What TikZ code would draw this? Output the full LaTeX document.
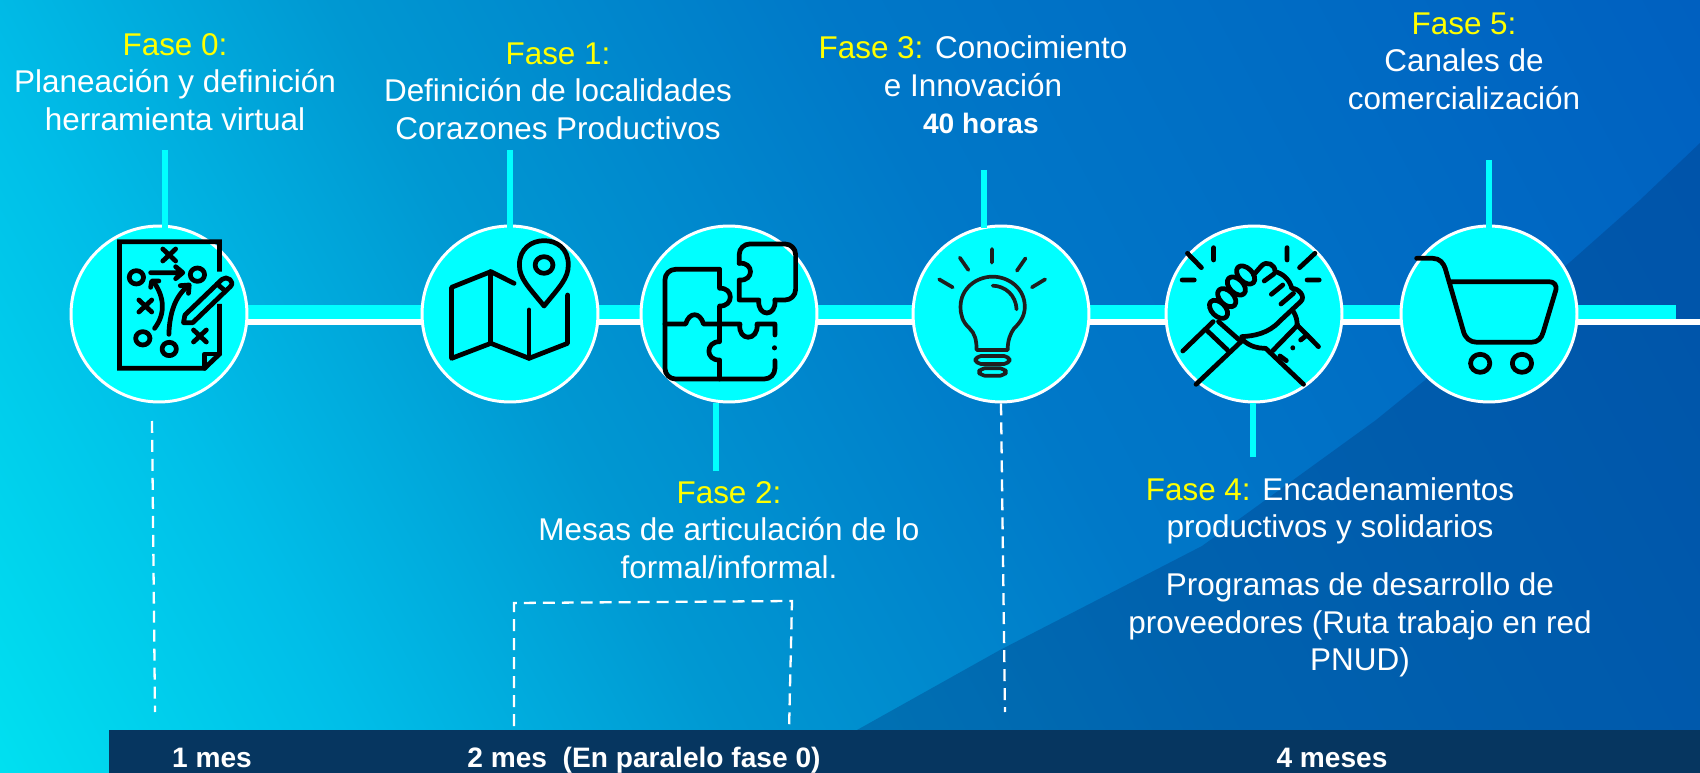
\documentclass[tikz,border=0pt]{standalone}
\usepackage{fontspec}
\setmainfont{Liberation Sans}
\usetikzlibrary{backgrounds}
\definecolor{fadea}{HTML}{00E0F0}
\definecolor{fadeb}{HTML}{00BEE8}
\definecolor{fadec}{HTML}{0098D2}
\definecolor{faded}{HTML}{0078C8}
\definecolor{fadee}{HTML}{0060C0}
\definecolor{navybar}{HTML}{063660}
\definecolor{wedgeblue}{HTML}{003A80}
\definecolor{aqua}{HTML}{00FFFF}
\definecolor{lemon}{HTML}{FFFF00}
\pgfdeclarehorizontalshading{bgfade}{100bp}{color(0bp)=(fadea); color(16bp)=(fadea); color(28bp)=(fadeb); color(40bp)=(fadec); color(56bp)=(faded); color(84bp)=(fadee); color(100bp)=(fadee)}
\tikzset{
  phase/.style={circle,draw=white,fill=aqua,line width=1.7pt,minimum size=3.52cm,inner sep=0pt},
  stem/.style={aqua,line width=3.6pt},
  dashline/.style={white,line width=1.3pt,dash pattern=on 6.8pt off 4pt},
  phasetext/.style={text=white,align=center,inner sep=0pt,font=\fontsize{17.9}{21.3}\selectfont},
  monthtext/.style={text=white,inner sep=0pt,anchor=base,font=\fontsize{16}{19}\selectfont\bfseries},
  icon/.style={x=0.0071429cm,y=-0.0066667cm,black,line width=2.7pt,line cap=round,line join=round},
}
\newcommand{\fase}[1]{\textcolor{lemon}{#1}}
\begin{document}
\begin{tikzpicture}[x=0.02cm,y=-0.02cm]
  \useasboundingbox (0,0) rectangle (1700,773);

  % phases
  \foreach \p/\x in {f0/159,f1/510,f2/729,f3/1001,f4/1254,f5/1489}{
    \node[phase] (\p) at (\x,314) {};
  }
  \coordinate (cyanend) at (1676,312);
  \coordinate (whiteend) at (1700,322);

  \begin{pgfonlayer}{background}
    \shade[shading=bgfade,shading angle=28.4] (0,0) rectangle (1700,773);
    \fill[wedgeblue,opacity=.35] (857,730) -- (1000,650) -- (1202,546) -- (1376,420) -- (1569,263) -- (1640,200) -- (1700,143) -- (1700,773) -- (857,773) -- cycle;
    \draw[aqua,line width=8pt] (f0.center |- cyanend) -- (cyanend);
    \draw[white,line width=3.7pt] (f0.center |- whiteend) -- (whiteend);
  \end{pgfonlayer}

  % stems
  \foreach \p/\x/\y in {f0/165/150,f1/510/150,f3/984/170,f5/1489/160}{
    \coordinate (s\p) at (\x,\y);
    \draw[stem,shorten >=-2pt] (s\p) -- (s\p |- \p.north);
  }
  \foreach \p/\x/\y in {f2/716/471,f4/1253/457}{
    \coordinate (s\p) at (\x,\y);
    \draw[stem] (s\p) -- (s\p |- \p.south);
  }

  % month bar
  \fill[navybar] (109,730) rectangle (1700,773);
  \node[monthtext] (m0) at (212,767) {1 mes};
  \node[monthtext] (m1) at (644,767) {2 mes\ \ (En paralelo fase 0)};
  \node[monthtext] (m2) at (1332,767) {4 meses};

  % dashed guides
  \coordinate (d0a) at (152,421);
  \coordinate (d0b) at (155,712);
  \coordinate (d1a) at (514,726);
  \coordinate (d1b) at (514,603);
  \coordinate (d1c) at (792,601);
  \coordinate (d1d) at (789,731);
  \coordinate (d3b) at (1005,712);
  \draw[dashline] (d0a) -- (d0b);
  \draw[dashline] (d1a) -- (d1b) -- (d1c) -- (d1d);
  \draw[dashline] (f3.south) -- (d3b);

  % labels
  \node[phasetext] (t0) at (175,82) {\fase{Fase 0:}\\Planeación y definición\\herramienta virtual};
  \node[phasetext] (t1) at (558,91) {\fase{Fase 1:}\\Definición de localidades\\Corazones Productivos};
  \node[phasetext] (t2) at (729,530) {\fase{Fase 2:}\\Mesas de articulación de lo\\formal/informal.};
  \node[phasetext] (t3) at (973,85) {\fase{Fase 3:} Conocimiento\\e Innovación\\\hspace*{9pt}{\fontsize{16}{21.3}\selectfont\bfseries 40 horas}};
  \node[phasetext] (t4) at (1330,511) {\fase{Fase 4:} Encadenamientos\\productivos y solidarios};
  \node[phasetext] (t4b) at (1360,625) {Programas de desarrollo de\\proveedores (Ruta trabajo en red\\PNUD)};
  \node[phasetext] (t5) at (1464,61) {\fase{Fase 5:}\\Canales de\\comercialización};

  % plan
  \begin{scope}[shift={(50,200)},icon]
    \draw[line cap=butt,line join=miter] (475,215) -- (475,125) -- (195,125) -- (195,505) -- (433,505) -- (475,462) -- (475,312);
    \draw (433,505) -- (433,462) -- (475,462);
    \foreach \cx/\cy in {334/165,267/318,420/408}{
      \draw (\cx-18,\cy-18) -- (\cx+18,\cy+18) (\cx-18,\cy+18) -- (\cx+18,\cy-18);
    }
    \foreach \cx/\cy in {242/232,413/224,260/415,334/447}{
      \draw (\cx,\cy) circle (20);
    }
    \draw (282,218) -- (370,218) (352,200) -- (372,218) -- (352,236);
    \draw (293,385) .. controls (325,340) and (320,290) .. (290,245);
    \draw (282,262) -- (285,243) -- (305,243);
    \draw (333,403) .. controls (335,340) and (350,290) .. (385,260);
    \draw (365,257) -- (390,255) -- (388,280);
    \draw (378,345) -- (482,238) .. controls (495,225) and (520,245) .. (505,260) -- (400,368) -- (374,368) -- cycle;
    \draw (468,252) -- (490,272);
  \end{scope}

  % map
  \begin{scope}[shift={(50,200)},icon]
    \draw (1384,318) .. controls (1340,260) and (1315,235) .. (1315,195) .. controls (1315,145) and (1350,122) .. (1384,122) .. controls (1420,122) and (1452,145) .. (1452,195) .. controls (1452,235) and (1428,260) .. (1384,318) -- cycle;
    \draw (1384,195) circle (25);
    \draw (1300,250) -- (1235,215) -- (1125,262) -- (1125,475) -- (1235,430) -- (1342,475) -- (1450,430) -- (1450,285);
    \draw (1235,215) -- (1235,430);
    \draw (1342,330) -- (1342,475);
  \end{scope}

  % puzzle
  \begin{scope}[shift={(600,200)},icon]
    \draw[rounded corners=6pt] (335,208) -- (182,208) -- (182,537) -- (490,537) -- (490,482);
    \draw (490,405) -- (490,372) -- (440,372) .. controls (445,425) and (385,425) .. (392,372) -- (335,372);
    \draw (489,443) -- (489,444);
    \draw (335,208) -- (335,265) .. controls (375,262) and (375,320) .. (335,318) -- (335,425) .. controls (295,425) and (295,482) .. (335,480) -- (335,537);
    \draw (182,372) -- (240,372) .. controls (250,335) and (280,335) .. (290,372) -- (335,372);
    \draw[rounded corners=6pt] (390,190) -- (390,132) -- (548,132) -- (548,300) -- (490,300);
    \draw (490,300) .. controls (495,352) and (440,352) .. (445,300) -- (390,300) -- (390,240) .. controls (432,245) and (432,185) .. (390,190);
  \end{scope}

  % bulb
  \begin{scope}[shift={(600,200)},icon,line width=2.1pt,black!88]
    \draw (1098,147) -- (1098,188) (1008,173) -- (1032,210) (1192,175) -- (1168,212) (950,238) -- (988,262) (1247,238) -- (1210,262);
    \draw (1055,450) -- (1142,450) .. controls (1142,420) and (1150,400) .. (1160,385) .. controls (1180,365) and (1190,345) .. (1190,320) .. controls (1190,265) and (1145,230) .. (1100,230) .. controls (1055,230) and (1010,265) .. (1010,320) .. controls (1010,345) and (1015,365) .. (1035,385) .. controls (1050,400) and (1055,420) .. (1055,450);
    \draw (1100,257) .. controls (1135,258) and (1165,285) .. (1167,328);
    \draw[rounded corners=3pt] (1052,468) rectangle (1147,492);
    \draw[rounded corners=3pt] (1062,505) rectangle (1137,527);
  \end{scope}

  % hands
  \begin{scope}[shift={(1140,200)},icon]
    \draw (133,160) -- (172,203) (206,143) -- (206,180) (412,143) -- (412,180) (490,160) -- (447,203) (118,240) -- (152,240) (468,240) -- (502,240);
    \draw (120,453) -- (205,365);
    \draw (188,392) -- (245,450) (220,365) -- (278,420);
    \draw (157,553) -- (288,420);
    \draw (458,553) -- (352,445);
    \draw (500,440) -- (440,375) (372,452) -- (442,375);
    \draw (450,420) -- (468,405) (392,468) -- (410,482) (428,443) -- (428,444);
    \foreach \cx/\cy in {220/328,243/293,270/258,296/225}{
      \draw (\cx,\cy) ellipse [x radius=6.2pt,y radius=3.9pt,rotate=-45];
    }
    \draw (318,225) -- (340,198) .. controls (355,180) and (380,195) .. (378,215) .. controls (400,220) and (420,240) .. (425,265) .. controls (445,265) and (465,290) .. (450,305) -- (390,365) .. controls (360,400) and (320,408) .. (285,410);
    \draw (348,243) -- (375,222) (368,283) -- (400,255) (395,312) -- (430,280);
    \draw (290,422) .. controls (310,440) and (330,445) .. (350,445);
    \draw (430,335) .. controls (438,350) and (440,360) .. (440,375);
  \end{scope}

  % cart
  \begin{scope}[shift={(1140,200)},icon]
    \draw (775,175) -- (820,175) .. controls (840,175) and (850,190) .. (855,205) -- (905,390) .. controls (910,415) and (925,427) .. (945,427) -- (1095,427) .. controls (1115,427) and (1125,415) .. (1130,395) -- (1165,270) .. controls (1168,255) and (1160,245) .. (1145,245) -- (868,245);
    \draw (953,490) circle (27);
    \draw (1070,490) circle (27);
  \end{scope}
\end{tikzpicture}
\end{document}
